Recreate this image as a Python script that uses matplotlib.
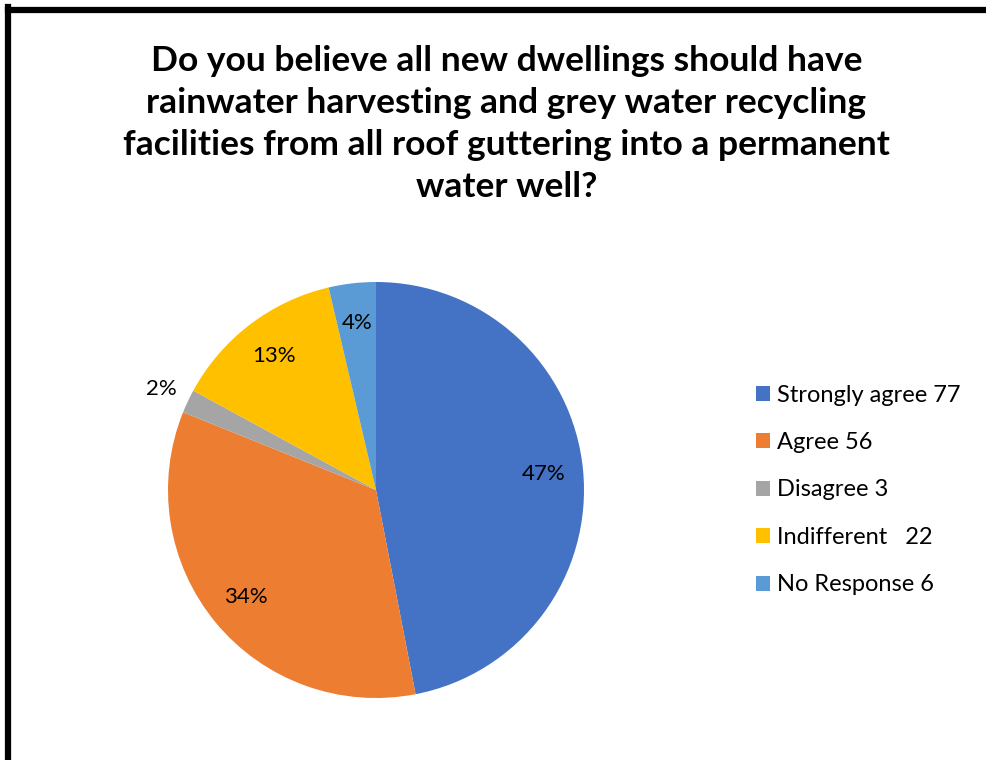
import matplotlib
matplotlib.use("Agg")
import matplotlib.pyplot as plt
from matplotlib.lines import Line2D
from matplotlib.patches import Patch

plt.rcParams['font.family'] = ['Lato', 'DejaVu Sans']

labels = ["Strongly agree 77", "Agree 56", "Disagree 3", "Indifferent   22", "No Response 6"]
counts = [77, 56, 3, 22, 6]
colors = ["#4472C4", "#ED7D31", "#A5A5A5", "#FFC000", "#5B9BD5"]
title = ("Do you believe all new dwellings should have\n"
         "rainwater harvesting and grey water recycling\n"
         "facilities from all roof guttering into a permanent\n"
         "water well?")

fig = plt.figure(figsize=(9.87, 7.6), dpi=100)

# frame lines (left and top only)
fig.add_artist(Line2D([8 / 987, 8 / 987], [0, 1 - 7 / 760], color="black", lw=4.5,
                      transform=fig.transFigure, solid_capstyle="projecting"))
fig.add_artist(Line2D([8 / 987, 1], [1 - 10 / 760, 1 - 10 / 760], color="black", lw=4.5,
                      transform=fig.transFigure, solid_capstyle="projecting"))

fig.text(0.513, 1 - 124 / 760, title, ha="center", va="center", fontsize=25.5,
         fontweight="bold", linespacing=1.38)

ax = fig.add_axes([168 / 987, 1 - 698 / 760, 416 / 987, 416 / 760])
wedges, texts, autotexts = ax.pie(counts, colors=colors, startangle=90, counterclock=False,
                                  autopct='%.0f%%', pctdistance=0.81, radius=1,
                                  textprops={"fontsize": 16, "color": "black"})
# the small slice label sits outside
t = autotexts[2]
x, y = t.get_position()
t.set_position((x / 0.81 * 1.14, y / 0.81 * 1.14))
ax.set_xlim(-1, 1)
ax.set_ylim(-1, 1)
ax.set_aspect("equal")

handles = [Patch(facecolor=c, edgecolor="none") for c in colors]
fig.legend(handles, labels, loc="center left", bbox_to_anchor=(735 / 987, 1 - 490 / 760),
           frameon=False, fontsize=17, handlelength=0.6, handleheight=0.6,
           handletextpad=0.3, labelspacing=1.12)

fig.savefig("out.png", dpi=100, facecolor="white")
